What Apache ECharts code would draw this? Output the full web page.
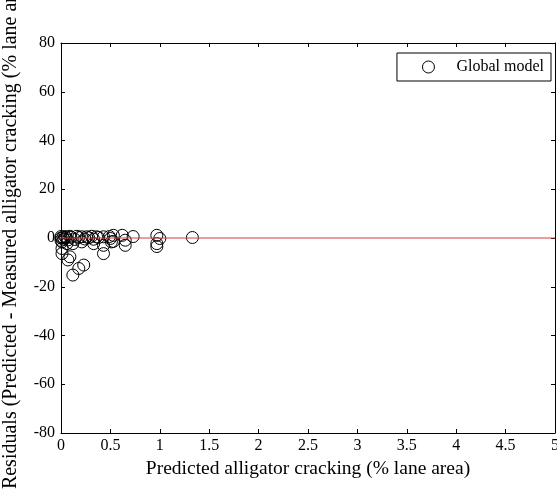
<!DOCTYPE html>
<html>
<head>
<meta charset="utf-8">
<script src="https://cdn.jsdelivr.net/npm/echarts@6/dist/echarts.min.js"></script>
<style>html,body{margin:0;padding:0;background:#fff;}#c{width:557px;height:491px;}</style>
</head>
<body>
<div id="c"></div>
<script>
// Predicted alligator cracking (% lane area)
var predX = [
  0.00, 0.04, 0.09, 0.16, 0.21, 0.26, 0.31, 0.36, 0.43, 0.50, 0.53,
  0.01, 0.06, 0.12, 0.21, 0.33, 0.43, 0.51,
  0.01, 0.01, 0.09, 0.43, 0.23, 0.18, 0.12, 0.07,
  0.00, 0.02, 0.03, 0.00, 0.05, 0.07, 0.10, 0.14, 0.18, 0.24, 0.28, 0.33, 0.38,
  0.62, 0.65, 0.65, 0.73, 0.97, 1.00, 0.97, 0.97, 0.53, 0.49, 1.33
];
// Residuals (Predicted - Measured)
var residY = [
  0.6, 0.6, 0.7, 0.7, 0.5, 0.5, 0.7, 0.5, 0.5, -0.2, 1.1,
  -1.6, -2.3, -2.3, -1.6, -2.3, -3.0, -1.6,
  -4.3, -6.4, -7.7, -6.4, -11.1, -12.5, -15.2, -9.0,
  0.0, 0.3, -0.5, -1.0, 0.2, -0.8, 0.3, -0.6, 0.2, -0.4, 0.1, -0.5, 0.2,
  1.1, -0.9, -3.0, 0.6, 1.1, -0.2, -2.3, -3.5, -1.4, 0.6, 0.2
];
// zero reference line
var refX = [0, 5];
var refY = [0, 0];
var seriesName = 'Global model';
var xTitle = 'Predicted alligator cracking (% lane area)';
var yTitle = 'Residuals (Predicted - Measured alligator cracking (% lane area))';

var pts = predX.map(function (x, i) { return [x, residY[i]]; });
var refPts = refX.map(function (x, i) { return [x, refY[i]]; });

var font = 'Liberation Serif';
var axisBase = {
  axisLine: { show: true, onZero: false, lineStyle: { color: '#000', width: 1 } },
  axisTick: { show: true, inside: true, length: 4, lineStyle: { color: '#000' } },
  splitLine: { show: false }
};
function merge(a, b) { var o = {}; for (var k in a) o[k] = a[k]; for (var k2 in b) o[k2] = b[k2]; return o; }

var chart = echarts.init(document.getElementById('c'), null, { renderer: 'canvas' });
chart.setOption({
  animation: false,
  backgroundColor: '#fff',
  grid: { left: 61, right: 2, top: 43, bottom: 58, containLabel: false, outerBoundsMode: 'none' },
  legend: {
    data: [{ name: seriesName, icon: 'circle' }],
    right: 6, top: 53,
    orient: 'vertical',
    borderColor: '#000', borderWidth: 1,
    padding: [6, 7, 6, 25],
    itemWidth: 12, itemHeight: 12,
    itemStyle: { color: 'transparent', borderColor: '#000', borderWidth: 1 },
    textStyle: { fontFamily: font, fontSize: 16, color: '#000', padding: [0, 0, 0, 17] }
  },
  xAxis: [
    merge(axisBase, {
      type: 'value', min: 0, max: 5, interval: 0.5, position: 'bottom',
      name: xTitle, nameLocation: 'middle', nameGap: 25,
      nameTextStyle: { fontFamily: font, fontSize: 19.5, color: '#000' },
      axisLabel: { show: true, fontFamily: font, fontSize: 16, color: '#000', margin: 5 }
    }),
    merge(axisBase, {
      type: 'value', min: 0, max: 5, interval: 0.5, position: 'top',
      axisLabel: { show: false }
    })
  ],
  yAxis: [
    merge(axisBase, {
      type: 'value', min: -80, max: 80, interval: 20, position: 'left',
      name: yTitle, nameLocation: 'middle', nameGap: 40,
      nameTextStyle: { fontFamily: font, fontSize: 20, color: '#000', padding: [0, 0, 0, 22] },
      axisLabel: { show: true, fontFamily: font, fontSize: 16, color: '#000', margin: 6 }
    }),
    merge(axisBase, {
      type: 'value', min: -80, max: 80, interval: 20, position: 'right',
      axisLabel: { show: false }
    })
  ],
  series: [
    {
      name: seriesName, type: 'scatter', data: pts,
      symbol: 'circle', symbolSize: 12,
      itemStyle: { color: 'transparent', borderColor: '#000', borderWidth: 1, opacity: 1 },
      z: 2
    },
    {
      name: 'zero', type: 'line', data: refPts, symbol: 'none',
      lineStyle: { color: '#d83a3a', width: 1 }, silent: true, z: 3
    }
  ]
});
</script>
</body>
</html>
